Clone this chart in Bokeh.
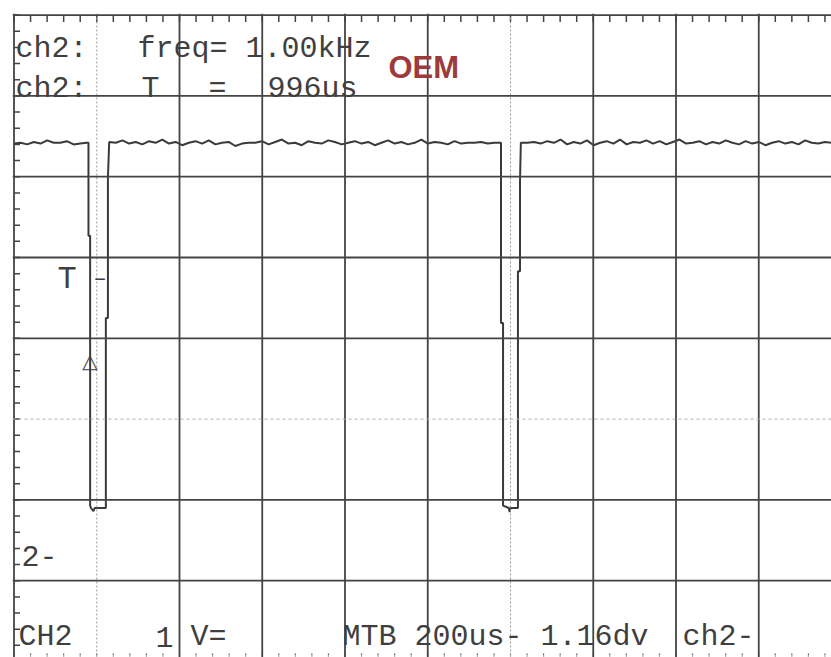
import numpy as np
from bokeh.plotting import figure
from bokeh.models import Range1d, Span, Label
from bokeh.embed import file_html
from bokeh.resources import INLINE

# ---- data (time in us, amplitude in screen divisions, 200 us/div) ----
hi1_v = [6.41, 6.42, 6.40, 6.43, 6.41, 6.45, 6.42, 6.42, 6.44, 6.40, 6.41, 6.42]
hi1_span = [0, 176]

pulse1_t = [180, 180, 184, 184, 186, 192, 195, 198, 220, 222, 222, 227, 227, 230]
pulse1_v = [6.42, 5.27, 5.27, 1.93, 1.90, 1.86, 1.90, 1.90, 1.90, 1.90, 4.25, 4.25, 5.98, 6.42]

hi2_v = [6.43, 6.42, 6.45, 6.41, 6.43, 6.40, 6.44, 6.42, 6.46, 6.41, 6.43, 6.39,
         6.42, 6.44, 6.41, 6.45, 6.40, 6.42, 6.43, 6.38, 6.41, 6.42, 6.42, 6.44,
         6.40, 6.43, 6.46, 6.41, 6.42, 6.39, 6.44, 6.42, 6.41, 6.45, 6.43, 6.40,
         6.42, 6.44, 6.41, 6.43, 6.39, 6.42, 6.45, 6.41, 6.43, 6.40, 6.42, 6.46,
         6.41, 6.43, 6.42, 6.40, 6.44, 6.41, 6.42, 6.42, 6.43, 6.41, 6.42, 6.42]
hi2_span = [230, 1177]

pulse2_t = [1177, 1177, 1182, 1182, 1196, 1198, 1200, 1218, 1218, 1223, 1223, 1225]
pulse2_v = [6.42, 4.19, 4.19, 1.93, 1.90, 1.85, 1.90, 1.90, 4.83, 4.83, 5.95, 6.42]

hi3_v = [6.42, 6.42, 6.43, 6.41, 6.44, 6.42, 6.46, 6.40, 6.43, 6.41, 6.45, 6.39,
         6.42, 6.44, 6.41, 6.46, 6.40, 6.43, 6.42, 6.45, 6.41, 6.44, 6.40, 6.43,
         6.46, 6.41, 6.42, 6.44, 6.40, 6.43, 6.41, 6.45, 6.42, 6.40, 6.44, 6.41,
         6.43, 6.39, 6.42, 6.44, 6.41, 6.43, 6.40, 6.45, 6.42, 6.41, 6.43, 6.42]
hi3_span = [1225, 1976]

major_x = [0, 400, 600, 800, 1000, 1400, 1600, 1800]
faint_x = [200, 1200]
major_y = [8, 7, 6, 5, 4, 2, 1]
faint_y = [3]

# ---- layout geometry (canvas pixels; the page body has no margin) ----
W, H = 831, 657
FL, FT = 12, 13          # frame left/top
PX_DIV_X, PX_DIV_Y = 82.75, 80.8
X0 = -1.5 / PX_DIV_X * 200
X1 = X0 + (W - FL) / PX_DIV_X * 200
Y1 = 8.02
Y0 = Y1 - (H - FT) / PX_DIV_Y

def pos(px, py):
    return (X0 + (px - FL) / PX_DIV_X * 200, Y1 - (py - FT) / PX_DIV_Y)

p = figure(width=W, height=H, x_range=Range1d(X0, X1), y_range=Range1d(Y0, Y1),
           output_backend="svg", toolbar_location=None,
           x_axis_location=None, y_axis_location=None,
           min_border_left=FL, min_border_top=FT,
           min_border_right=0, min_border_bottom=0)
p.outline_line_color = None
p.xgrid.visible = False
p.ygrid.visible = False
p.background_fill_color = "white"
p.border_fill_color = "white"

GRID = "#444444"
for x in major_x:
    p.add_layout(Span(location=x, dimension="height", line_color=GRID, line_width=1.8))
for x in faint_x:
    p.add_layout(Span(location=x, dimension="height", line_color="#9a9a9a",
                      line_width=1, line_dash="2 2"))
for y in major_y:
    p.add_layout(Span(location=y, dimension="width", line_color=GRID, line_width=1.8))
for y in faint_y:
    p.add_layout(Span(location=y, dimension="width", line_color="#b0b0b0",
                      line_width=1, line_dash="3 3"))

# border ticks
tx = np.arange(0, 2001, 40)
p.segment(x0=tx, y0=8, x1=tx, y1=8 - 7 / PX_DIV_Y, line_color=GRID, line_width=1.5)
p.segment(x0=tx, y0=0, x1=tx, y1=0 + 9 / PX_DIV_Y, line_color="#666666", line_width=1.2,
          line_dash="2 1")
ty = np.arange(0, 8.01, 0.2)
p.segment(x0=0, y0=ty, x1=6 / PX_DIV_X * 200, y1=ty, line_color=GRID, line_width=1.5)

# trace
t = (list(np.linspace(hi1_span[0], hi1_span[1], len(hi1_v))) + pulse1_t +
     list(np.linspace(hi2_span[0], hi2_span[1], len(hi2_v))) + pulse2_t +
     list(np.linspace(hi3_span[0], hi3_span[1], len(hi3_v))))
v = hi1_v + pulse1_v + hi2_v + pulse2_v + hi3_v
p.line(t, v, line_color="#3a3a3a", line_width=2)

# texts
MONO = "Liberation Mono"
TXT = "#3f3f3f"
def lab(text, px, py, size=30, font=MONO, color=TXT, style="normal", align="left",
        baseline="alphabetic"):
    x, y = pos(px, py)
    p.add_layout(Label(x=x, y=y, text=text, text_font=font, text_font_size=f"{size}px",
                       text_color=color, text_font_style=style, text_align=align,
                       text_baseline=baseline))

lab("ch2:", 15, 48)
lab("freq= 1.00kHz", 137, 48)
lab("ch2:", 15, 88)
lab("T", 141, 88)
lab("=", 208, 88)
lab("996us", 267, 88)
lab("OEM", 388, 67, size=31, font="Liberation Sans", color="#9c3a3c", style="bold")
lab("T", 57, 279, size=32)
lab("\u2013", 93, 279, size=22)
lab("\u25b3", 89.5, 360, size=20, font="DejaVu Sans", align="center", baseline="middle")
lab("2-", 21, 555)
lab("CH2", 18, 636, size=30)
lab("1", 155, 636, size=30)
lab("V=", 190, 636, size=30)
lab("MTB 200us- 1.16dv", 342, 636, size=30)
lab("ch2-", 682, 636, size=30)

open("out.html", "w").write(file_html(p, INLINE))
